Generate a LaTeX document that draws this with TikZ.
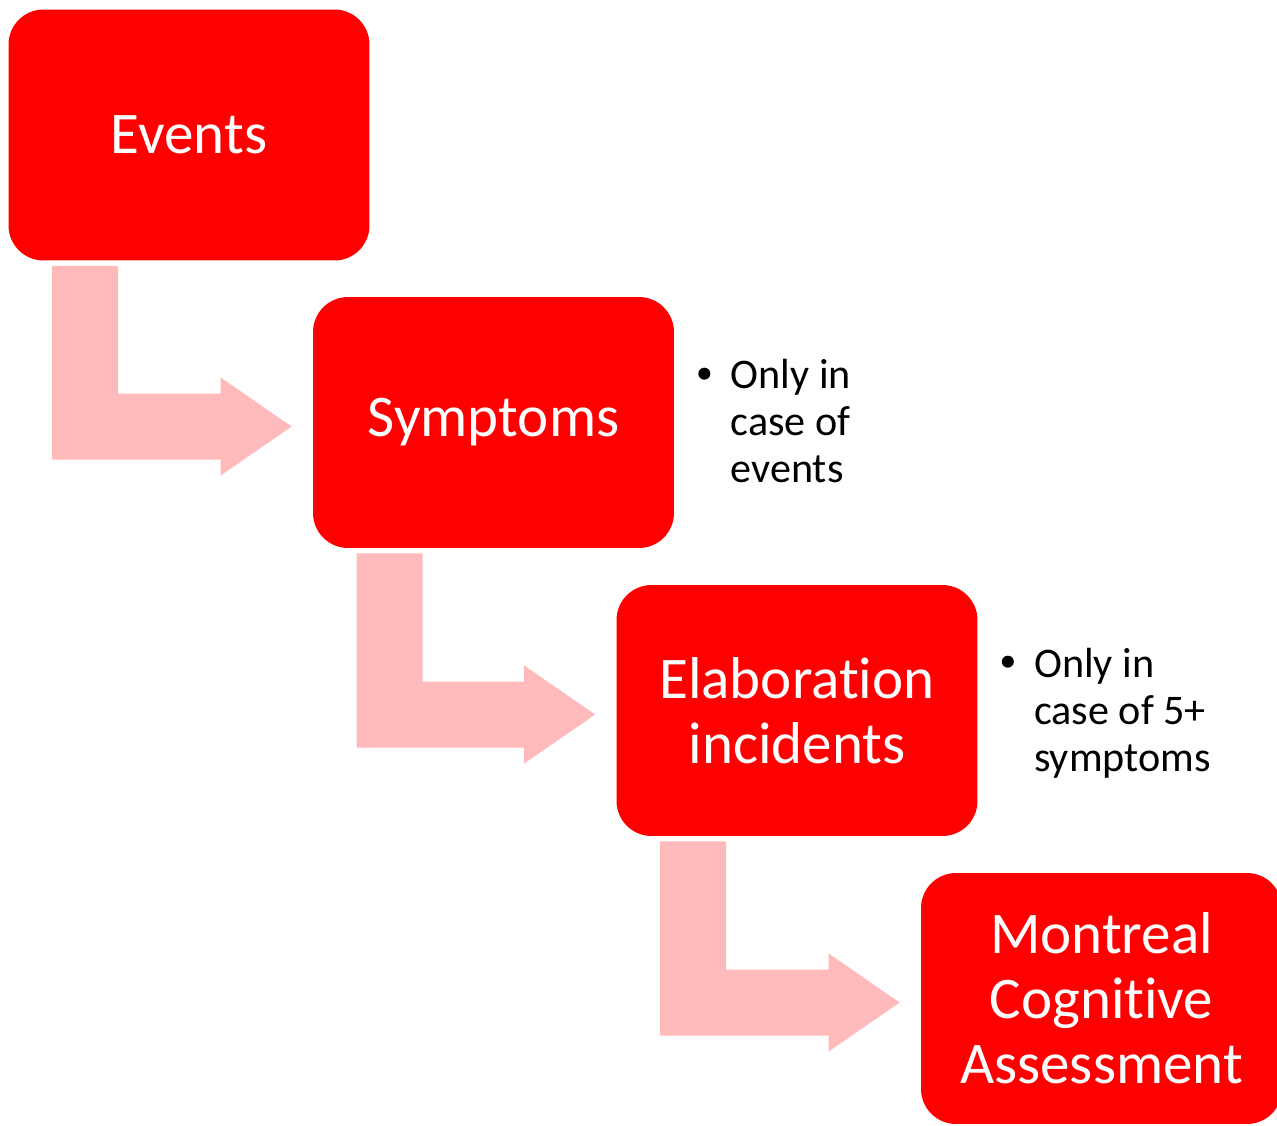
\documentclass[tikz,border=0pt]{standalone}
\usepackage{fontspec}
\setmainfont[Ligatures=NoCommon]{Carlito}
\usetikzlibrary{calc}
\definecolor{stagered}{RGB}{255,0,0}
\definecolor{flowpink}{RGB}{255,187,187}
\tikzset{%
  stage/.style={rectangle, rounded corners=0.7cm, fill=stagered, text=white,
    minimum width=7.22cm, minimum height=5.02cm, align=center,
    font=\fontsize{33.6}{37}\selectfont},
  note/.style={anchor=base west, align=left, inner sep=0pt,
    font=\fontsize{24}{26.7}\selectfont},
  notedot/.style={circle, fill=black, inner sep=0pt, minimum size=0.24cm}
}
% bent arrow from the bottom of one stage to the left side of the next
\newcommand{\bentarrow}[2]{%
  \coordinate (s) at ($(#1.south west)+(44,5)$);
  \coordinate (t) at ($(#2.west)+(-21,4)$);
  \coordinate (c) at (s |- t);
  \fill[flowpink] (s) -- ++(66,0) -- ($(c)+(66,-33)$) -- ($(t)+(-71,-33)$)
    -- ($(t)+(-71,-49)$) -- (t) -- ($(t)+(-71,49)$) -- ($(t)+(-71,33)$)
    -- ($(c)+(0,33)$) -- cycle;
}

\begin{document}
\begin{tikzpicture}[x=0.02cm, y=-0.02cm]
  \useasboundingbox (0,0) rectangle (1277,1125);

  \node[stage] (events) at (189,135) {Events};
  \node[stage] (sympt) at (493.5,422.5) {Symptoms};
  \node[stage] (elab) at (797,710.5) {Elaboration\\incidents};
  \node[stage] (moca) at (1101.5,998.5) {Montreal\\Cognitive\\Assessment};

  \bentarrow{events}{sympt}
  \bentarrow{sympt}{elab}
  \bentarrow{elab}{moca}

  % side notes (base anchor sits on the last line)
  \node[notedot] (dot1) at ($(sympt.north east)+(30,77)$) {};
  \node[note] (note1) at ($(sympt.north east)+(56,186)$) {Only in\\case of\\events};
  \node[notedot] (dot2) at ($(elab.north east)+(30,77)$) {};
  \node[note] (note2) at ($(elab.north east)+(56,187)$) {Only in\\case of 5+\\symptoms};
\end{tikzpicture}
\end{document}
